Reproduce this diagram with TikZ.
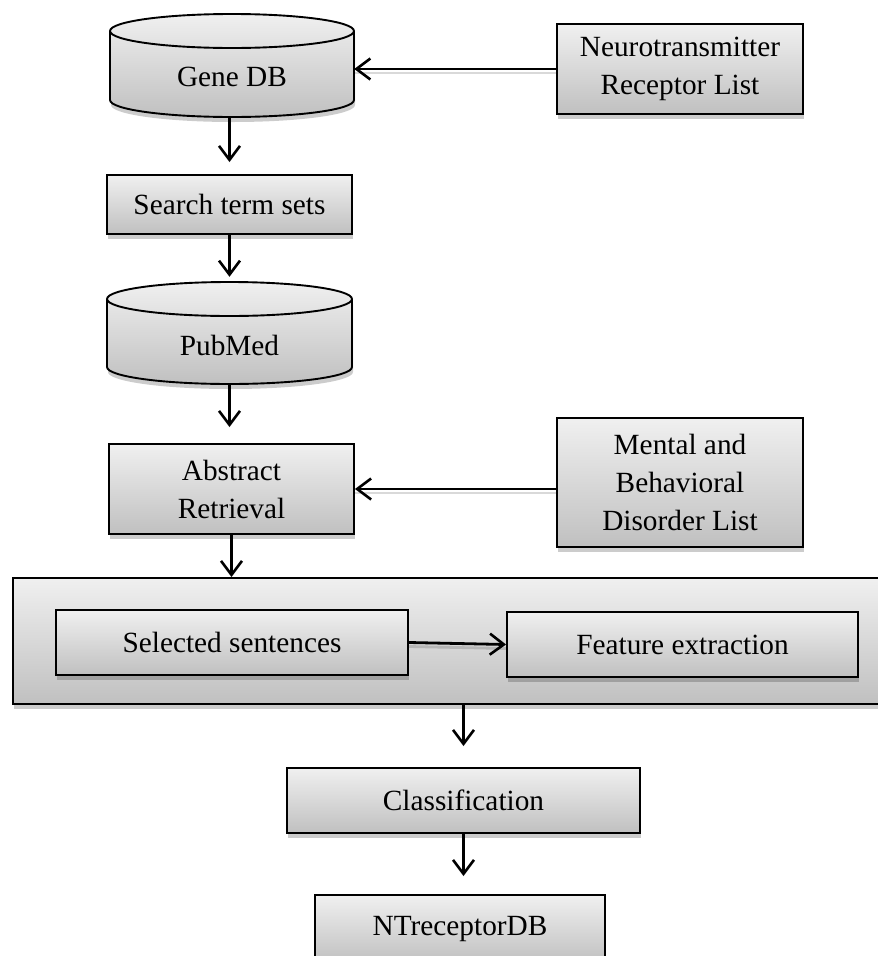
\documentclass[tikz,border=0pt]{standalone}
\usepackage{fontspec}
\setmainfont{Liberation Serif}
\usetikzlibrary{arrows.meta,shadows,calc}
\definecolor{boxtop}{RGB}{240,240,240}
\definecolor{boxbot}{RGB}{192,192,192}
\begin{document}
\begin{tikzpicture}[x=1pt,y=-1pt,
  txt/.style={inner sep=0pt, align=center, font=\fontsize{29.3pt}{38pt}\selectfont},
  box/.style={txt, draw=black, line width=1.9pt, top color=boxtop, bottom color=boxbot,
     drop shadow={shadow xshift=1pt, shadow yshift=-5pt, fill=black, opacity=0.2}},
  arr/.style={line width=2.8pt, -{Straight Barb[length=14pt,width=21pt,line width=2.6pt]}},
  arrsh/.style={line width=2.8pt, black, opacity=0.15, transform canvas={yshift=-4pt}},
  cylsh/.style={fill=black, opacity=0.2},
  cylfill/.style={top color=boxtop, bottom color=boxbot},
  cylline/.style={draw=black, line width=1.9pt}]
\useasboundingbox (0,0) rectangle (878,956);
\clip (0,0) rectangle (878,956);

% ---------- Gene DB cylinder ----------
\fill[cylsh] (111,36) -- (111,105) arc[start angle=180,end angle=0,x radius=122,y radius=17]
   -- (355,36) arc[start angle=0,end angle=-180,x radius=122,y radius=17] -- cycle;
\shade[cylfill] (110,31) -- (110,100) arc[start angle=180,end angle=0,x radius=122,y radius=17]
   -- (354,31) arc[start angle=0,end angle=-180,x radius=122,y radius=17] -- cycle;
\draw[cylline] (110,31) -- (110,100) arc[start angle=180,end angle=0,x radius=122,y radius=17]
   -- (354,31) arc[start angle=0,end angle=-180,x radius=122,y radius=17] -- cycle;
\draw[cylline] (110,31) arc[start angle=180,end angle=0,x radius=122,y radius=17];
\node[inner sep=0pt, minimum width=244pt, minimum height=103pt] (genedb) at (232,65.5) {};
\node[txt] (genedbtxt) at (232,77) {Gene DB};

% ---------- PubMed cylinder ----------
\fill[cylsh] (108,304) -- (108,372) arc[start angle=180,end angle=0,x radius=122.5,y radius=17]
   -- (353,304) arc[start angle=0,end angle=-180,x radius=122.5,y radius=17] -- cycle;
\shade[cylfill] (107,299) -- (107,367) arc[start angle=180,end angle=0,x radius=122.5,y radius=17]
   -- (352,299) arc[start angle=0,end angle=-180,x radius=122.5,y radius=17] -- cycle;
\draw[cylline] (107,299) -- (107,367) arc[start angle=180,end angle=0,x radius=122.5,y radius=17]
   -- (352,299) arc[start angle=0,end angle=-180,x radius=122.5,y radius=17] -- cycle;
\draw[cylline] (107,299) arc[start angle=180,end angle=0,x radius=122.5,y radius=17];
\node[inner sep=0pt, minimum width=245pt, minimum height=102pt] (pubmed) at (229.5,333) {};
\node[txt] (pubmedtxt) at (229.5,345) {PubMed};

% ---------- boxes ----------
\node[box, minimum width=246pt, minimum height=90pt] (nt) at (680,69) {Neurotransmitter\\Receptor List};
\node[box, minimum width=245pt, minimum height=59pt] (search) at (229.5,204.5) {Search term sets};
\node[box, minimum width=245pt, minimum height=90pt] (abs) at (231.5,489) {Abstract\\Retrieval};
\node[box, minimum width=246pt, minimum height=129pt] (mental) at (680,482.5) {Mental and\\Behavioral\\Disorder List};
\node[box, minimum width=877pt, minimum height=126pt] (big) at (451.5,641) {};
\node[box, minimum width=352pt, minimum height=65pt] (sel) at (232,642.5) {Selected sentences};
\node[box, minimum width=351pt, minimum height=65pt] (feat) at (682.5,644.5) {Feature extraction};
\node[box, minimum width=353pt, minimum height=65pt] (class) at (463.5,800.5) {Classification};
\node[box, minimum width=290pt, minimum height=68pt] (ntdb) at (460,929) {NTreceptorDB};

% ---------- connector shadows ----------
\draw[arrsh] (nt.west) -- (nt.west -| genedb.east);
\draw[arrsh] (abs.east -| mental.west) -- (abs.east);
\draw[arrsh] (sel.east) -- (feat.west);

% ---------- connectors ----------
\draw[arr] (nt.west) -- (nt.west -| genedb.east);
\draw[arr, shorten >=12pt] (search.north |- genedb.south) -- (search.north);
\draw[arr, shorten >=5pt] (search.south) -- (pubmed.north);
\draw[arr, shorten >=16pt] (pubmed.south) -- (pubmed.south |- abs.north);
\draw[arr] (abs.east -| mental.west) -- (abs.east);
\draw[arr] (abs.south) -- (abs.south |- big.north);
\draw[arr] (sel.east) -- (feat.west);
\draw[arr, shorten >=21pt] (class.north |- big.south) -- (class.north);
\draw[arr, shorten >=18pt] (class.south) -- (class.south |- ntdb.north);
\end{tikzpicture}
\end{document}
